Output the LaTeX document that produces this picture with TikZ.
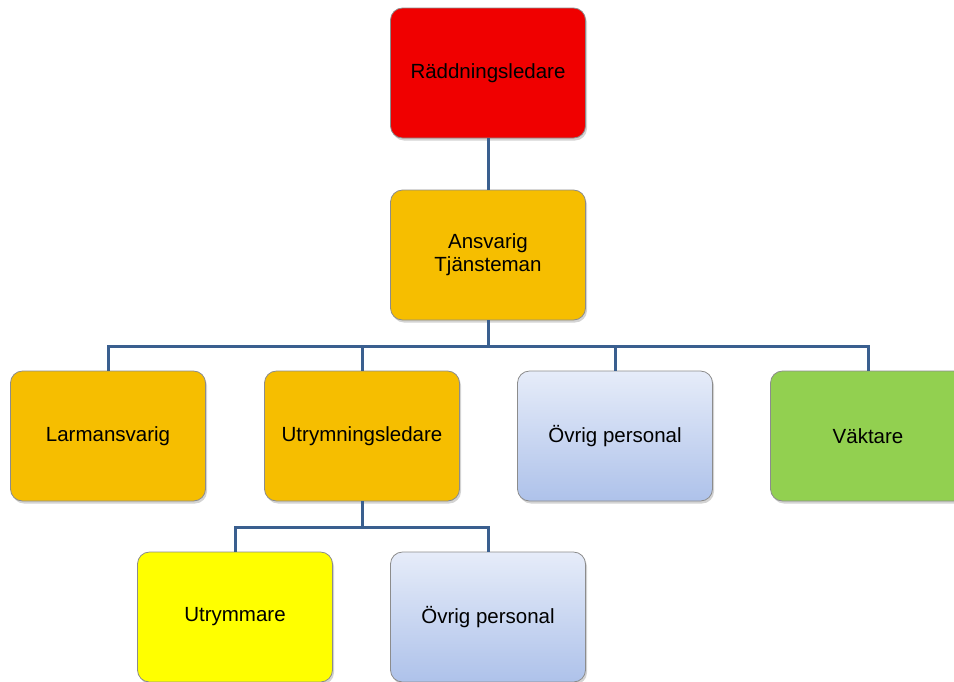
\documentclass[tikz,border=0pt]{standalone}
\usepackage{fontspec}
\setmainfont{Liberation Sans}
\usetikzlibrary{shadows}
\definecolor{linkblue}{HTML}{3A5F8F}
\definecolor{rescuered}{HTML}{F00000}
\definecolor{leadorange}{HTML}{F6BE00}
\definecolor{staffblue}{HTML}{E6ECF9}
\definecolor{staffblue2}{HTML}{AEC2EA}
\definecolor{guardgreen}{HTML}{92D050}
\definecolor{evacyellow}{HTML}{FFFF00}
\tikzset{
  box/.style={draw=black!45, line width=0.8pt, rounded corners=12pt, align=center,
    minimum width=195pt, minimum height=130pt, inner sep=0pt, outer sep=0pt,
    font=\fontsize{20.5}{23}\selectfont,
    drop shadow={shadow xshift=1.5pt, shadow yshift=-2.5pt, opacity=0.35}},
  kred/.style={box, fill=rescuered}, korange/.style={box, fill=leadorange},
  kstaff/.style={box, top color=staffblue, bottom color=staffblue2},
  kgreen/.style={box, fill=guardgreen}, kyellow/.style={box, fill=evacyellow},
  flow/.style={draw=linkblue, line width=3pt},
}

\begin{document}
\begin{tikzpicture}[x=1pt, y=-1pt]
    \useasboundingbox (0,0) rectangle (954,681);
    \clip (0,0) rectangle (954,681);
    \node[kred] (rescue) at (488,73) {Räddningsledare};
    \node[korange] (officer) at (488,255) {Ansvarig\\Tjänsteman};
    \node[korange] (alarm) at (108,436) {Larmansvarig};
    \node[korange] (evaclead) at (362,436) {Utrymningsledare};
    \node[kstaff] (staff) at (615,436) {Övrig personal};
    \node[kgreen] (guard) at (868,436) {Väktare};
    \node[kyellow] (evac) at (235,617) {Utrymmare};
    \node[kstaff] (staffb) at (488,617) {Övrig personal};
    \coordinate (bar) at (488,346);
    \coordinate (subbar) at (362,527);
    \draw[flow] (rescue.south) -- (officer.north);
    \draw[flow] (officer.south) -- (bar);
    \draw[flow] (bar) -| (alarm.north);
    \draw[flow] (bar) -| (evaclead.north);
    \draw[flow] (bar) -| (staff.north);
    \draw[flow] (bar) -| (guard.north);
    \draw[flow] (evaclead.south) -- (subbar);
    \draw[flow] (subbar) -| (evac.north);
    \draw[flow] (subbar) -| (staffb.north);
  \end{tikzpicture}
\end{document}
